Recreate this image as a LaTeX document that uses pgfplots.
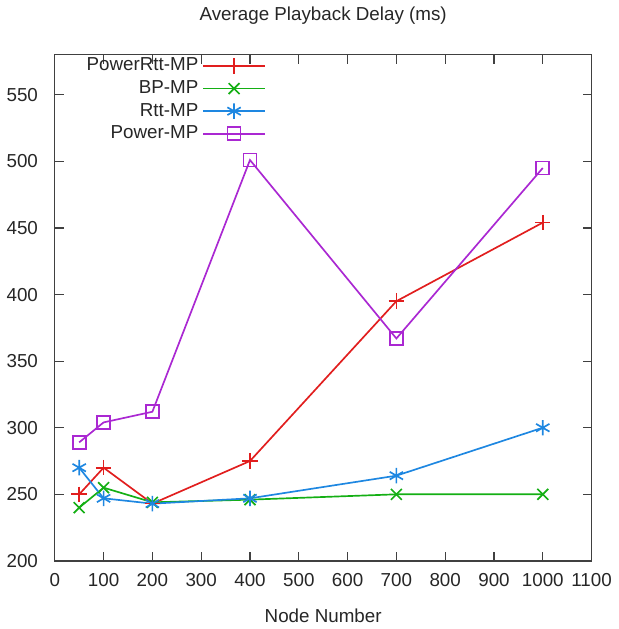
\documentclass[border=0pt]{standalone}
\usepackage{fontspec}
\setmainfont{Liberation Sans}
\usepackage{pgfplots}
\pgfplotsset{compat=1.18}

\definecolor{cPR}{RGB}{225,30,30}
\definecolor{cBP}{RGB}{20,175,20}
\definecolor{cRtt}{RGB}{30,135,225}
\definecolor{cPow}{RGB}{170,40,210}

\begin{document}
\begin{tikzpicture}
\begin{axis}[
  scale only axis,
  width=271.5pt, height=256pt,
  xmin=0, xmax=1100, ymin=200, ymax=580,
  xtick={0,100,...,1100},
  ytick={200,250,...,550},
  tick align=inside,
  major tick length=4.5pt,
  axis line style={black!75, line width=0.6pt},
  tick style={black!75, line width=0.6pt},
  /pgf/number format/assume math mode=true,
  /pgf/number format/1000 sep={},
  ticklabel style={font=\fontsize{9.5}{11}\selectfont, text=black!85},
  xticklabel style={yshift=-3pt},
  yticklabel style={xshift=-5pt},
  title={Average Playback Delay (ms)},
  title style={font=\fontsize{9.5}{11}\selectfont, yshift=6pt, text=black!85},
  xlabel={Node Number},
  xlabel style={font=\fontsize{9.5}{11}\selectfont, yshift=-4pt, text=black!85},
  legend style={draw=none, fill=none, at={(0.405,1.01)}, anchor=north east,
    font=\fontsize{9.5}{11}\selectfont, row sep=-0.6pt, text=black!85},
  legend cell align=right,
  legend plot pos=right,
  legend image code/.code={%
    \draw[line width=0.85pt, mark repeat=2, mark phase=2]
      plot coordinates {(0cm,0cm) (0.55cm,0cm) (1.1cm,0cm)};},
  mark size=3.9pt,
]
\addplot[color=cPR, line width=0.85pt, mark=+, mark options={line width=0.85pt}] coordinates {
  (50,250) (100,270) (200,243) (400,275) (700,395) (1000,454)};
\addlegendentry{PowerRtt-MP}
\addplot[color=cBP, line width=0.85pt, mark=x, mark options={line width=0.85pt}] coordinates {
  (50,240) (100,255) (200,244) (400,246) (700,250) (1000,250)};
\addlegendentry{BP-MP}
\addplot[color=cRtt, line width=0.85pt, mark=asterisk, mark options={line width=0.85pt}] coordinates {
  (50,270) (100,247) (200,243) (400,247) (700,264) (1000,300)};
\addlegendentry{Rtt-MP}
\addplot[color=cPow, line width=0.85pt, mark=square, mark options={line width=0.85pt, mark size=3.3pt}] coordinates {
  (50,289) (100,304) (200,312) (400,501) (700,367) (1000,495)};
\addlegendentry{Power-MP}
\end{axis}
\end{tikzpicture}
\end{document}
